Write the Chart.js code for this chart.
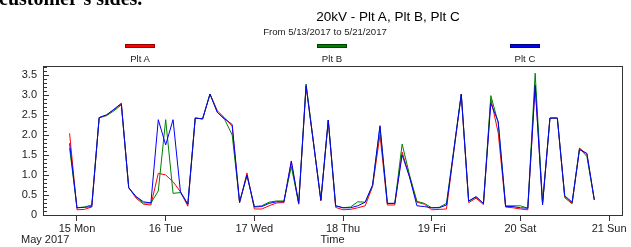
<!DOCTYPE html>
<html>
<head>
<meta charset="utf-8">
<script src="https://cdn.jsdelivr.net/npm/chart.js@4"></script>
<style>
  body { margin: 0; background: #fff; }
  #wrap { position: relative; width: 631px; height: 247px; overflow: hidden; font-family: "Liberation Sans", Arial, sans-serif; }
  #myChart { position: absolute; left: 0; top: 0; }
  .txt { position: absolute; white-space: nowrap; color: #222; }
  .swatch { position: absolute; width: 28px; height: 2px; top: 44px; border: 1px solid; }
</style>
</head>
<body>
<div id="wrap">
  <canvas id="myChart" width="631" height="247"></canvas>
  <div class="txt" style="left:-1px; top:-13px; font: bold 20px 'Liberation Serif', serif; color:#000;">customer's sides.</div>
  <div class="txt" style="left:288px; width:200px; text-align:center; top:9px; font-size:13.5px; color:#000;">20kV - Plt A, Plt B, Plt C</div>
  <div class="txt" style="left:225px; width:200px; text-align:center; top:26px; font-size:9.6px;">From 5/13/2017 to 5/21/2017</div>
  <div class="swatch" style="left:125px; background:#ff0000; border-color:#900;"></div>
  <div class="swatch" style="left:317px; background:#008000; border-color:#004000;"></div>
  <div class="swatch" style="left:510px; background:#0000ff; border-color:#000080;"></div>
  <div class="txt" style="left:100px; width:80px; text-align:center; top:53px; font-size:9.6px;">Plt A</div>
  <div class="txt" style="left:292px; width:80px; text-align:center; top:53px; font-size:9.6px;">Plt B</div>
  <div class="txt" style="left:485px; width:80px; text-align:center; top:53px; font-size:9.6px;">Plt C</div>
  <div class="txt" style="left:21px; top:233px; font-size:11px;">May 2017</div>
</div>
<script>
// hours since 15 May 00:00, one reading every 2 hours
const hours = [-2, 0, 2, 4, 6, 8, 10, 12, 14, 16, 18, 20, 22, 24, 26, 28, 30, 32, 34, 36, 38, 40, 42, 44,
    46, 48, 50, 52, 54, 56, 58, 60, 62, 64, 66, 68, 70, 72, 74, 76, 78, 80, 82, 84, 86, 88, 90, 92,
    94, 96, 98, 100, 102, 104, 106, 108, 110, 112, 114, 116, 118, 120, 122, 124, 126, 128, 130, 132, 134, 136, 138, 140];

const pltA = [2.04, 0.13, 0.14, 0.20, 2.43, 2.50, 2.63, 2.77, 0.68, 0.42, 0.27, 0.25, 1.04, 1.00, 0.83, 0.58,
    0.22, 2.42, 2.40, 3.02, 2.60, 2.42, 2.22, 0.30, 1.05, 0.15, 0.15, 0.23, 0.30, 0.31, 1.33, 0.27,
    3.22, 1.80, 0.35, 2.36, 0.19, 0.13, 0.14, 0.18, 0.23, 0.71, 2.00, 0.25, 0.25, 1.57, 0.95, 0.32,
    0.27, 0.13, 0.14, 0.15, 1.60, 3.00, 0.31, 0.42, 0.26, 2.90, 2.05, 0.20, 0.18, 0.15, 0.13, 3.25,
    0.29, 2.42, 2.42, 0.43, 0.28, 1.67, 1.52, 0.38];

const pltB = [1.67, 0.18, 0.20, 0.25, 2.43, 2.48, 2.60, 2.75, 0.68, 0.45, 0.30, 0.30, 0.60, 2.38, 0.54, 0.56,
    0.27, 2.42, 2.40, 3.02, 2.56, 2.38, 2.00, 0.32, 0.98, 0.21, 0.23, 0.32, 0.35, 0.35, 1.21, 0.29,
    3.27, 1.82, 0.37, 2.37, 0.23, 0.18, 0.20, 0.33, 0.32, 0.74, 2.20, 0.29, 0.29, 1.77, 1.00, 0.34,
    0.29, 0.18, 0.19, 0.29, 1.65, 3.02, 0.34, 0.45, 0.28, 2.98, 2.30, 0.23, 0.23, 0.23, 0.17, 3.54,
    0.29, 2.42, 2.42, 0.46, 0.30, 1.67, 1.46, 0.38];

const pltC = [1.79, 0.18, 0.19, 0.21, 2.43, 2.50, 2.64, 2.79, 0.68, 0.46, 0.33, 0.30, 2.38, 1.75, 2.38, 0.58,
    0.27, 2.42, 2.40, 3.02, 2.56, 2.40, 2.26, 0.32, 1.00, 0.20, 0.21, 0.29, 0.33, 0.33, 1.35, 0.29,
    3.23, 1.80, 0.37, 2.37, 0.23, 0.18, 0.18, 0.23, 0.32, 0.75, 2.23, 0.29, 0.29, 1.50, 0.95, 0.23,
    0.21, 0.18, 0.18, 0.25, 1.62, 3.02, 0.35, 0.46, 0.29, 2.79, 2.33, 0.21, 0.21, 0.18, 0.17, 3.23,
    0.25, 2.42, 2.42, 0.48, 0.32, 1.63, 1.54, 0.38];

const dayTicks = [0, 24, 48, 72, 96, 120, 144];
const dayLabels = ['15 Mon', '16 Tue', '17 Wed', '18 Thu', '19 Fri', '20 Sat', '21 Sun'];
const yTicks = [0, 0.5, 1, 1.5, 2, 2.5, 3, 3.5];
const yLabels = ['0', '0.5', '1.0', '1.5', '2.0', '2.5', '3.0', '3.5'];

function toPoints(values) {
    return values.map((v, i) => ({ x: hours[i], y: v }));
}

// box round the plot and the small inside ticks on the value axis
const frame = {
    id: 'frame',
    afterDraw(chart) {
        const { ctx, chartArea: a } = chart;
        const y = chart.scales.y;
        ctx.save();
        ctx.strokeStyle = '#333';
        ctx.lineWidth = 1;
        ctx.strokeRect(a.left + 0.5, a.top + 0.5, a.right - a.left, a.bottom - a.top);
        ctx.beginPath();
        for (let i = 0; i <= 37; i++) {
            const py = Math.round(y.getPixelForValue(i / 10)) + 0.5;
            const len = i % 5 === 0 ? 6 : 4;
            ctx.moveTo(a.left, py);
            ctx.lineTo(a.left + len, py);
        }
        ctx.stroke();
        ctx.restore();
    }
};

const ctx = document.getElementById('myChart').getContext('2d');
new Chart(ctx, {
    type: 'line',
    data: {
        datasets: [
            { label: 'Plt A', data: toPoints(pltA), borderColor: '#ff0000', order: 3 },
            { label: 'Plt B', data: toPoints(pltB), borderColor: '#008000', order: 2 },
            { label: 'Plt C', data: toPoints(pltC), borderColor: '#0000ff', order: 1 }
        ]
    },
    options: {
        responsive: false,
        animation: false,
        layout: { padding: { top: 66, right: 9, left: 0, bottom: 0 } },
        elements: {
            line: { borderWidth: 1, tension: 0 },
            point: { radius: 0 }
        },
        plugins: {
            legend: { display: false },
            tooltip: { enabled: false }
        },
        scales: {
            x: {
                type: 'linear',
                min: -9.2,
                max: 147.5,
                afterFit: s => { s.height = 32; },
                afterBuildTicks: s => { s.ticks = dayTicks.map(v => ({ value: v })); },
                grid: { drawOnChartArea: false, drawTicks: true, tickLength: 6, tickColor: '#333' },
                border: { display: true, color: '#333' },
                ticks: {
                    autoSkip: false,
                    maxRotation: 0,
                    padding: 1,
                    color: '#222',
                    font: { family: 'Liberation Sans', size: 11 },
                    callback: (v, i) => dayLabels[i]
                },
                title: {
                    display: true,
                    text: 'Time',
                    color: '#222',
                    padding: { top: 0, bottom: 0 },
                    font: { family: 'Liberation Sans', size: 11 }
                }
            },
            y: {
                min: 0,
                max: 3.72,
                afterFit: s => { s.width = 43; },
                afterBuildTicks: s => { s.ticks = yTicks.map(v => ({ value: v })); },
                grid: { display: false, drawTicks: false },
                border: { display: true, color: '#333' },
                ticks: {
                    autoSkip: false,
                    padding: 6,
                    color: '#222',
                    font: { family: 'Liberation Sans', size: 11 },
                    callback: (v, i) => yLabels[i]
                }
            }
        }
    },
    plugins: [frame]
});
</script>
</body>
</html>
